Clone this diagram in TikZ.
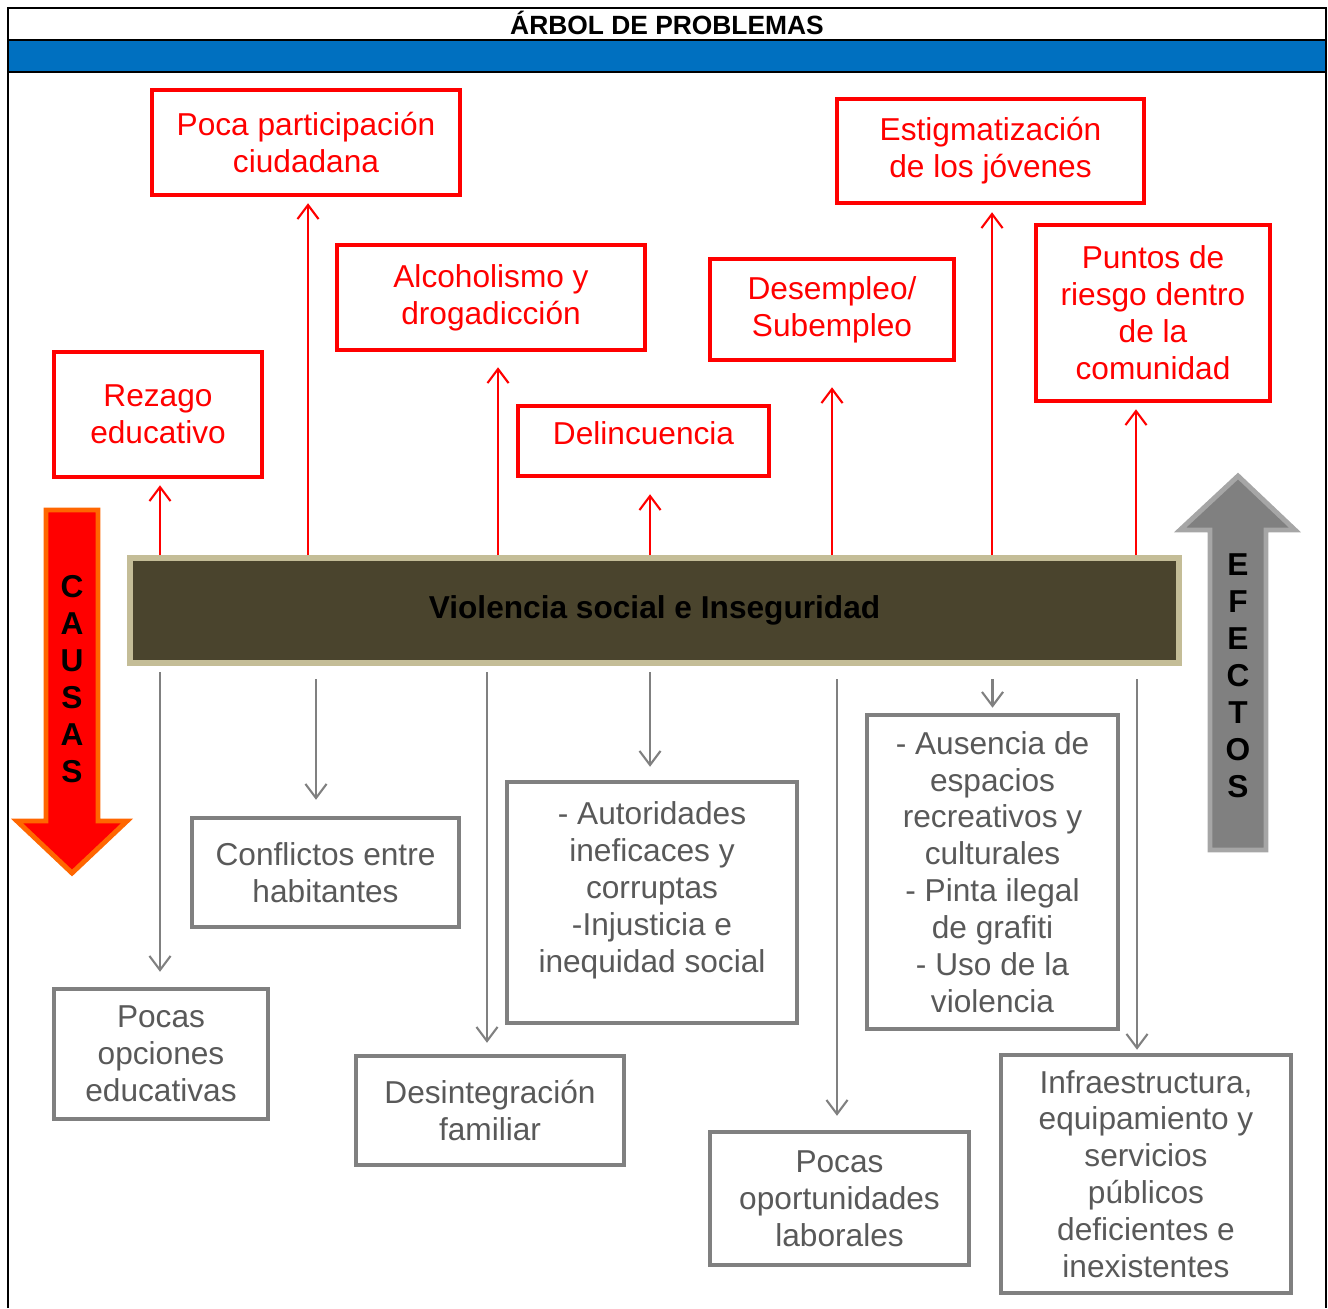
\documentclass[tikz,border=0pt]{standalone}
\usepackage{fontspec}
\setmainfont{Liberation Sans}
\usetikzlibrary{arrows.meta}

\definecolor{rojo}{RGB}{255,0,0}
\definecolor{naranja}{RGB}{255,102,0}
\definecolor{gris}{RGB}{128,128,128}
\definecolor{grisclaro}{RGB}{166,166,166}
\definecolor{textogris}{RGB}{89,89,89}
\definecolor{azul}{RGB}{0,112,192}
\definecolor{oliva}{RGB}{74,68,45}
\definecolor{arena}{RGB}{196,189,151}

\begin{document}
\begin{tikzpicture}[x=0.01cm,y=-0.01cm,
        efectobox/.style={draw=rojo,line width=1.25pt,text=rojo,align=center,
            inner sep=0pt,font=\fontsize{9}{10.5}\selectfont},
        causabox/.style={draw=gris,line width=1.25pt,text=textogris,align=center,
            inner sep=0pt,font=\fontsize{9}{10.5}\selectfont},
        efecto/.style={draw=rojo,line width=0.6pt,-{Straight Barb[length=4pt,width=6pt]}},
        causa/.style={draw=gris,line width=0.6pt,-{Straight Barb[length=4pt,width=6pt]}},
        letras/.style={align=center,font=\fontsize{9}{10.5}\selectfont\bfseries}]
\useasboundingbox (0,0) rectangle (1328,1308);

% marco y encabezado
\fill[azul] (8,40) rectangle (1326,72);
\draw[line width=0.8pt] (8,1308) -- (8,8) -- (1326,8) -- (1326,1308);
\draw[line width=0.8pt] (8,40) -- (1326,40);
\draw[line width=0.8pt] (8,72) -- (1326,72);
\node[font=\fontsize{7.5}{9}\selectfont\bfseries] at (667,23) (titulo) {ÁRBOL DE PROBLEMAS};

% flechas laterales
\draw[naranja,fill=rojo,line width=1.4pt] (46,510) -- (98,510) -- (98,821) -- (127,821)
    -- (72,873) -- (17,821) -- (46,821) -- cycle;
\node[letras] at (72,679) (causas) {C\\A\\U\\S\\A\\S};
\draw[grisclaro,fill=gris,line width=1.4pt] (1210,850) -- (1266,850) -- (1266,530) -- (1295,530)
    -- (1238,476) -- (1180,530) -- (1210,530) -- cycle;
\node[letras] at (1238,676) (efectos) {E\\F\\E\\C\\T\\O\\S};

% problema central
\node[draw=arena,fill=oliva,line width=1.7pt,minimum width=10.49cm,minimum height=1.05cm,
    font=\fontsize{9}{10.5}\selectfont\bfseries] at (654.5,610.5) (problema) {Violencia social e Inseguridad};

% efectos
\node[efectobox,minimum width=3.08cm,minimum height=1.05cm] at (306,142.5) (participacion) {Poca participación\\ciudadana};
\node[efectobox,minimum width=3.07cm,minimum height=1.04cm] at (990.5,151) (estigma) {Estigmatización\\de los jóvenes};
\node[efectobox,minimum width=3.08cm,minimum height=1.05cm] at (491,297.5) (alcohol) {Alcoholismo y\\drogadicción};
\node[efectobox,minimum width=2.44cm,minimum height=1.01cm] at (832,309.5) (desempleo) {Desempleo/\\Subempleo};
\node[efectobox,minimum width=2.34cm,minimum height=1.76cm] at (1153,313) (riesgo) {Puntos de\\riesgo dentro\\de la\\comunidad};
\node[efectobox,minimum width=2.08cm,minimum height=1.25cm] at (158,414.5) (rezago) {Rezago\\educativo};
\node[efectobox,minimum width=2.51cm,minimum height=0.70cm,text depth=0.15cm] at (643.5,441) (delincuencia) {Delincuencia};

% causas
\node[causabox,minimum width=2.14cm,minimum height=1.30cm] at (161,1054) (opciones) {Pocas\\opciones\\educativas};
\node[causabox,minimum width=2.67cm,minimum height=1.09cm] at (325.5,872.5) (conflictos) {Conflictos entre\\habitantes};
\node[causabox,minimum width=2.68cm,minimum height=1.09cm] at (490,1110.5) (desintegracion) {Desintegración\\familiar};
\node[causabox,minimum width=2.90cm,minimum height=2.41cm,text depth=0.31cm] at (652,902.5) (autoridades) {- Autoridades\\ineficaces y\\corruptas\\-Injusticia e\\inequidad social};
\node[causabox,minimum width=2.59cm,minimum height=1.33cm] at (839.5,1198.5) (oportunidades) {Pocas\\oportunidades\\laborales};
\node[causabox,minimum width=2.51cm,minimum height=3.14cm] at (992.5,872) (espacios) {- Ausencia de\\espacios\\recreativos y\\culturales\\- Pinta ilegal\\de grafiti\\- Uso de la\\violencia};
\node[causabox,minimum width=2.90cm,minimum height=2.38cm] at (1146,1174) (infraestructura) {Infraestructura,\\equipamiento y\\servicios\\públicos\\deficientes e\\inexistentes};

% flechas hacia los efectos
\draw[efecto,shorten >=0.06cm] ([xshift=0.02cm]rezago.south |- problema.north) -- ([xshift=0.02cm]rezago.south);
\draw[efecto,shorten >=0.06cm] ([xshift=0.02cm]participacion.south |- problema.north) -- ([xshift=0.02cm]participacion.south);
\draw[efecto,shorten >=0.15cm] ([xshift=0.07cm]alcohol.south |- problema.north) -- ([xshift=0.07cm]alcohol.south);
\draw[efecto,shorten >=0.16cm] ([xshift=0.065cm]delincuencia.south |- problema.north) -- ([xshift=0.065cm]delincuencia.south);
\draw[efecto,shorten >=0.25cm] (desempleo.south |- problema.north) -- (desempleo.south);
\draw[efecto,shorten >=0.07cm] ([xshift=0.015cm]estigma.south |- problema.north) -- ([xshift=0.015cm]estigma.south);
\draw[efecto,shorten >=0.06cm] ([xshift=-0.17cm]riesgo.south |- problema.north) -- ([xshift=-0.17cm]riesgo.south);

% flechas hacia las causas
\draw[causa,shorten <=0.06cm,shorten >=0.15cm] ([xshift=-0.01cm]opciones.north |- problema.south) -- ([xshift=-0.01cm]opciones.north);
\draw[causa,shorten <=0.13cm,shorten >=0.16cm] ([xshift=-0.095cm]conflictos.north |- problema.south) -- ([xshift=-0.095cm]conflictos.north);
\draw[causa,shorten <=0.06cm,shorten >=0.11cm] ([xshift=-0.03cm]desintegracion.north |- problema.south) -- ([xshift=-0.03cm]desintegracion.north);
\draw[causa,shorten <=0.06cm,shorten >=0.13cm] ([xshift=-0.02cm]autoridades.north |- problema.south) -- ([xshift=-0.02cm]autoridades.north);
\draw[causa,shorten <=0.13cm,shorten >=0.14cm] ([xshift=-0.025cm]oportunidades.north |- problema.south) -- ([xshift=-0.025cm]oportunidades.north);
\draw[causa,shorten <=0.13cm,shorten >=0.05cm] (espacios.north |- problema.south) -- (espacios.north);
\draw[causa,shorten <=0.13cm,shorten >=0.03cm] ([xshift=-0.09cm]infraestructura.north |- problema.south) -- ([xshift=-0.09cm]infraestructura.north);
\end{tikzpicture}
\end{document}
